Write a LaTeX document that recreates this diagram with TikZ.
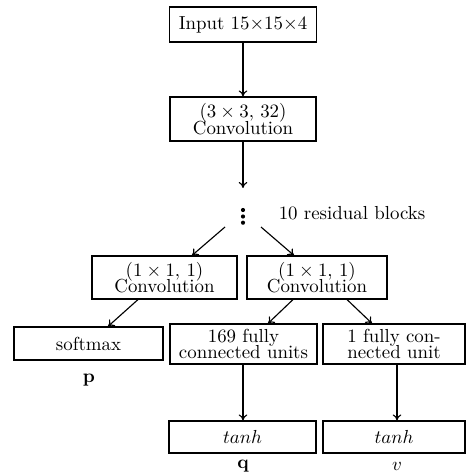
\documentclass[tikz,border=0pt]{standalone}
\usepackage{amsmath}
\usetikzlibrary{arrows.meta}
\begin{document}
\begin{tikzpicture}[x=0.53pt,y=-0.53pt,
  box/.style={draw,line width=0.6pt,inner sep=0pt,align=center},
  link/.style={-{To[length=3.2pt,width=4.6pt]},line width=0.6pt},
  outlbl/.style={inner sep=0pt}]
\useasboundingbox (0,0) rectangle (466,474);

% trunk
\node[box,minimum width=147*0.53pt,minimum height=35*0.53pt] (in) at (243,24.5) {Input $15{\times}15{\times}4$};
\node[box,minimum width=146*0.53pt,minimum height=44*0.53pt] (conv) at (243,119) {$(3\times3,\,32)$\\[-3.3pt]Convolution};
\coordinate (trunkend) at (243,188);
\coordinate (res) at (243,216.5);
\node[inner sep=0pt] (reslbl) at (352,213) {10 residual blocks};

% heads
\node[box,minimum width=145*0.53pt,minimum height=43*0.53pt] (cl) at (164.5,277.5) {$(1\times1,\,1)$\\[-3.3pt]Convolution};
\node[box,minimum width=140*0.53pt,minimum height=43*0.53pt] (cr) at (317,277.5) {$(1\times1,\,1)$\\[-3.3pt]Convolution};
\node[box,minimum width=149*0.53pt,minimum height=33*0.53pt] (soft) at (88.5,343.5) {softmax};
\node[box,minimum width=147*0.53pt,minimum height=40*0.53pt] (fcq) at (243.5,344) {169 fully\\[-3.3pt]connected units};
\node[box,minimum width=142*0.53pt,minimum height=40*0.53pt] (fcv) at (394,344) {1 fully con-\\[-3.3pt]nected unit};
\node[box,minimum width=147*0.53pt,minimum height=32*0.53pt] (tq) at (242.5,437) {$tanh$};
\node[box,minimum width=142*0.53pt,minimum height=32*0.53pt] (tv) at (394,437) {$tanh$};

% outputs
\node[outlbl] (p) at (89,380) {$\mathbf{p}$};
\node[outlbl] (q) at (243,466) {$\mathbf{q}$};
\node[outlbl] (v) at (397,466) {$v$};

% residual tower dots
\foreach \dy in {-6.5,0,6.2} \fill ([yshift=-\dy*0.53pt]res) circle (1.1pt);

% connectors
\draw[link] (in.south) -- (conv.north);
\draw[link] (conv.south) -- (trunkend);
\coordinate (splitl) at (225,227);
\coordinate (splitr) at (261,227);
\draw[link] (splitl) -- (cl.north -| 192,0);
\draw[link] (splitr) -- (cr.north -| 294,0);
\draw[link] (cl.south -| 138,0) -- (soft.north -| 108,0);
\draw[link] (cr.south -| 293,0) -- (fcq.north -| 268,0);
\draw[link] (cr.south -| 347,0) -- (fcv.north -| 372,0);
\draw[link] (fcq.south -| 243,0) -- (tq.north -| 243,0);
\draw[link] (fcv.south -| 397,0) -- (tv.north -| 397,0);
\end{tikzpicture}
\end{document}
